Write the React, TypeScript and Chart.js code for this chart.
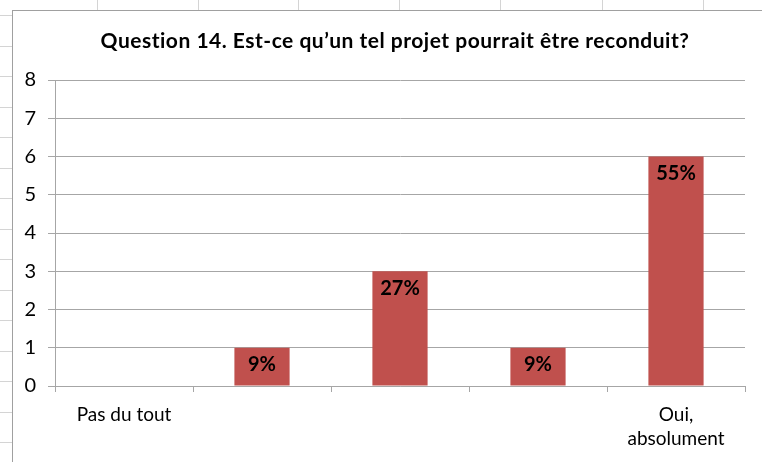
import React, { useEffect, useRef } from "react";
import { Chart, registerables } from "chart.js";

Chart.register(...registerables);

// ---- data ----
const categories: (string | string[])[] = ["Pas du tout", "", "", "", ["Oui,", "absolument"]];
const counts: number[] = [0, 1, 3, 1, 6];
const percentLabels: string[] = ["", "9%", "27%", "9%", "55%"];
const yMin = 0;
const yMax = 8;
const yStep = 1;
const titleText = "Question 14. Est-ce qu’un tel projet pourrait être reconduit?";

// ---- style ----
const FONT = "Lato, 'Noto Sans', sans-serif";
const BAR_COLOR = "#C0504D";
const GRID_COLOR = "#a6a6a6";
const TEXT_COLOR = "#000000";

const CANVAS_W = 749;
const CANVAS_H = 451;

const titlePlugin = {
  id: "customTitle",
  afterDraw(chart: any) {
    const ctx = chart.ctx;
    ctx.save();
    ctx.font = `bold 21px ${FONT}`;
    try {
      (ctx as any).letterSpacing = "0.5px";
    } catch (e) {}
    ctx.fillStyle = TEXT_COLOR;
    ctx.textAlign = "center";
    ctx.textBaseline = "middle";
    ctx.fillText(titleText, 382, 30);
    ctx.restore();
  },
};

const barLabelPlugin = {
  id: "barLabels",
  afterDatasetsDraw(chart: any) {
    const ctx = chart.ctx;
    const meta = chart.getDatasetMeta(0);
    ctx.save();
    ctx.font = `bold 20px ${FONT}`;
    ctx.fillStyle = TEXT_COLOR;
    ctx.textAlign = "center";
    ctx.textBaseline = "middle";
    meta.data.forEach((bar: any, i: number) => {
      const txt = percentLabels[i];
      if (!txt) return;
      ctx.fillText(txt, bar.x, bar.y + 17);
    });
    ctx.restore();
  },
};

function BarChart() {
  const ref = useRef<HTMLCanvasElement | null>(null);

  useEffect(() => {
    if (!ref.current) return;
    const chart = new Chart(ref.current, {
      type: "bar",
      data: {
        labels: categories,
        datasets: [
          {
            data: counts,
            backgroundColor: BAR_COLOR,
            borderWidth: 0,
            categoryPercentage: 1,
            barPercentage: 0.4,
          },
        ],
      },
      options: {
        responsive: false,
        animation: false,
        layout: { padding: { top: 69, right: 17, bottom: 0, left: 0 } },
        plugins: {
          legend: { display: false },
          title: { display: false },
          tooltip: { enabled: false },
        },
        scales: {
          x: {
            type: "category",
            offset: true,
            grid: {
              display: true,
              offset: true,
              drawOnChartArea: false,
              drawTicks: true,
              tickLength: 6,
              color: GRID_COLOR,
            },
            border: { display: true, color: GRID_COLOR },
            ticks: {
              autoSkip: false,
              maxRotation: 0,
              minRotation: 0,
              padding: 11,
              color: TEXT_COLOR,
              font: { family: FONT, size: 19, lineHeight: 1.25 },
            },
            afterFit: (s: any) => {
              s.height = 76;
            },
          },
          y: {
            min: yMin,
            max: yMax,
            grid: {
              color: GRID_COLOR,
              tickLength: 7,
              drawTicks: true,
            },
            border: { display: true, color: GRID_COLOR },
            ticks: {
              stepSize: yStep,
              padding: 12,
              color: TEXT_COLOR,
              font: { family: FONT, size: 20 },
            },
            afterFit: (s: any) => {
              s.width = 42;
            },
          },
        },
      },
      plugins: [titlePlugin, barLabelPlugin],
    } as any);
    return () => chart.destroy();
  }, []);

  return <canvas ref={ref} width={CANVAS_W} height={CANVAS_H} style={{ display: "block" }} />;
}

const rowStubs = Array.from({ length: 15 }, (_, k) => 15 + k * 30.5);
const colStubs = [97, 198, 298, 399, 500, 602, 703];

export default function App() {
  return (
    <div
      style={{
        position: "fixed",
        left: 0,
        top: 0,
        width: 762,
        height: 462,
        background: "#ffffff",
        overflow: "hidden",
      }}
    >
      {rowStubs.map((y, i) => (
        <div
          key={"r" + i}
          style={{ position: "absolute", left: 0, top: Math.round(y), width: 12, height: 1, background: "#d4d4d4" }}
        />
      ))}
      {colStubs.map((x, i) => (
        <div
          key={"c" + i}
          style={{ position: "absolute", left: x, top: 0, width: 1, height: 10, background: "#d4d4d4" }}
        />
      ))}
      <div
        style={{
          position: "absolute",
          left: 12,
          top: 10,
          width: 750,
          height: 452,
          borderLeft: "1px solid #a0a0a0",
          borderTop: "1px solid #a0a0a0",
          boxSizing: "border-box",
          background: "#ffffff",
        }}
      >
        <BarChart />
      </div>
    </div>
  );
}
